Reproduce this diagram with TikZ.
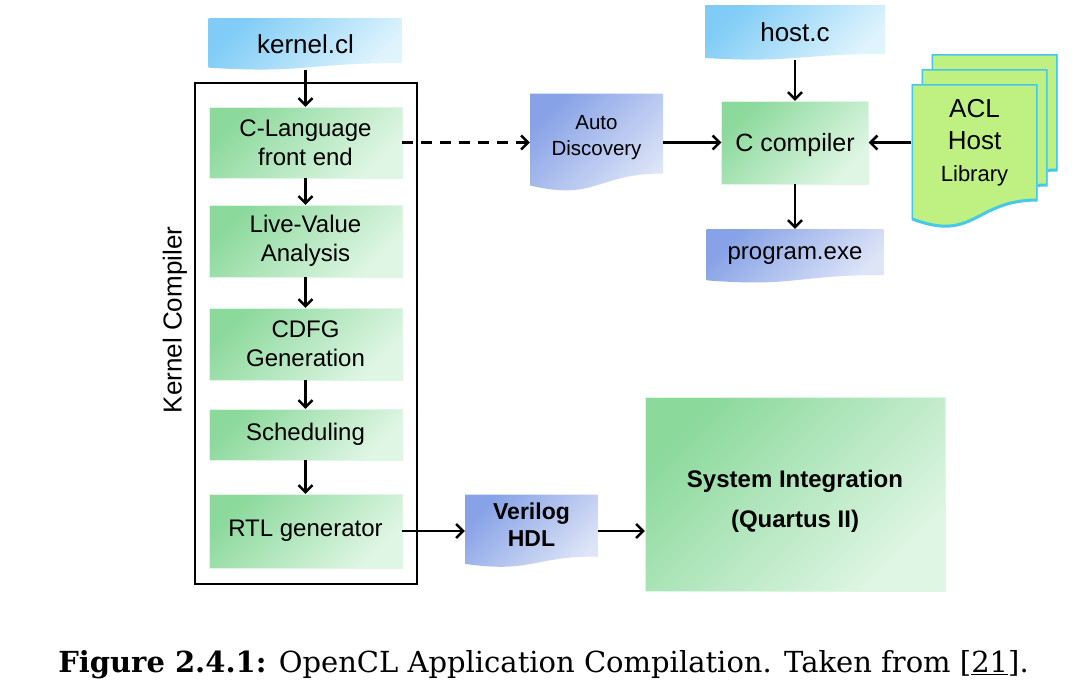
\documentclass[tikz,border=0pt]{standalone}
\usepackage{fontspec}
\setsansfont{Liberation Sans}
\newfontfamily\capfont{DejaVu Serif}
\usetikzlibrary{arrows.meta}

\definecolor{stagedark}{RGB}{140,217,156}
\definecolor{stagelight}{RGB}{224,246,229}
\definecolor{srcdark}{RGB}{128,204,246}
\definecolor{srclight}{RGB}{224,244,253}
\definecolor{outdark}{RGB}{135,162,230}
\definecolor{outlight}{RGB}{222,229,247}
\definecolor{libfill}{RGB}{190,240,130}
\definecolor{libline}{RGB}{70,200,232}

\tikzset{
  wave/.store in=\docwave, wave=8,
  docpaint/.style={},
  doc/.style={inner sep=0pt, align=center, path picture={
    \path[docpaint] (path picture bounding box.north west) -- (path picture bounding box.north east)
      -- ([yshift=\docwave]path picture bounding box.south east)
      .. controls ([yshift=\docwave]path picture bounding box.south) and ([yshift=-0.54*\docwave]path picture bounding box.south)
      .. ([yshift=\docwave/3]path picture bounding box.south west) -- cycle;}},
  srcfile/.style={doc, docpaint/.style={top color=srcdark, bottom color=srclight, shading angle=45},
    font=\sffamily\fontsize{26}{30}\selectfont},
  outfile/.style={doc, docpaint/.style={top color=outdark, bottom color=outlight, shading angle=45},
    font=\sffamily\fontsize{24}{28}\selectfont},
  libfile/.style={doc, wave=28, minimum width=126, minimum height=144,
    docpaint/.style={fill=libfill, draw=libline, line width=3pt}},
  stage/.style={top color=stagedark, bottom color=stagelight, shading angle=45, draw=stagelight,
    inner sep=0pt, align=center, minimum width=193, font=\sffamily\fontsize{24}{29}\selectfont},
  arr/.style={-{Straight Barb[length=7pt,width=14pt]}, line width=2.5pt},
  dasharr/.style={arr, dash pattern=on 11pt off 8pt},
}

\begin{document}
\begin{tikzpicture}[x=1pt, y=-1pt]
\useasboundingbox (0,0) rectangle (1086,694);

% kernel side
\node[srcfile, minimum width=194, minimum height=52, wave=7] (kernel) at (305.5,44) {kernel.cl};
\node[draw, line width=2pt, minimum width=222, minimum height=501] (kcbox) at (306,333.5) {};
\node[rotate=90, font=\sffamily\fontsize{26}{30}\selectfont] (kclabel) at (175,320) {Kernel Compiler};
\node[stage, minimum height=71] (clang) at (305.5,142.5) {C-Language\\front end};
\node[stage, minimum height=72] (live) at (305.5,241) {Live-Value\\Analysis};
\node[stage, minimum height=72] (cdfg) at (305.5,344) {CDFG\\Generation};
\node[stage, minimum height=51] (sched) at (305.5,434.5) {Scheduling};
\node[stage, minimum height=74] (rtl) at (305.5,531) {RTL generator};

% host side
\node[srcfile, minimum width=180, minimum height=55, wave=6] (host) at (795,32.5) {host.c};
\node[outfile, minimum width=133, minimum height=98, wave=18, font=\sffamily\fontsize{20.5}{26}\selectfont] (autod) at (596.5,142.5) {Auto\\Discovery\\[-11pt]};
\node[stage, minimum width=147, minimum height=83, font=\sffamily\fontsize{25}{29}\selectfont] (ccomp) at (795,142.5) {\rule{0pt}{24pt}C compiler};
\node[outfile, minimum width=177, minimum height=54, wave=8] (prog) at (795,256) {program.exe};
\node[libfile] (acl3) at (994.5,126) {};
\node[libfile] (acl2) at (984.5,141) {};
\node[libfile, font=\sffamily\fontsize{26}{32}\selectfont] (acl) at (974.5,156) {ACL\\Host\\{\fontsize{22}{32}\selectfont Library}\\};

% hardware side
\node[outfile, minimum width=133, minimum height=73, wave=11, font=\sffamily\bfseries\fontsize{23}{27}\selectfont] (veri) at (531.5,531) {Verilog\\HDL\\[-14pt]};
\node[stage, minimum width=300, minimum height=194, font=\sffamily\bfseries\fontsize{24}{40}\selectfont] (sysint) at (795,494) {\rule{0pt}{31pt}System Integration\\(Quartus II)};

\draw[arr] (kernel) -- (clang);
\draw[arr] (clang) -- (live);
\draw[arr] (live) -- (cdfg);
\draw[arr] (cdfg) -- (sched);
\draw[arr] (sched) -- (rtl);
\draw[dasharr] (clang) -- (autod);
\draw[arr] (autod) -- (ccomp);
\draw[arr] (host) -- (ccomp);
\draw[arr] (acl.west |- ccomp.east) -- (ccomp.east);
\draw[arr] (ccomp) -- (prog);
\draw[arr] (rtl) -- (veri);
\draw[arr] (veri) -- (veri -| sysint.west);

\node[font=\capfont\fontsize{29}{33}\selectfont] (caption) at (543.5,665) {\textbf{Figure 2.4.1:} OpenCL Application Compilation. Taken from [\underline{21}].};
\end{tikzpicture}
\end{document}
